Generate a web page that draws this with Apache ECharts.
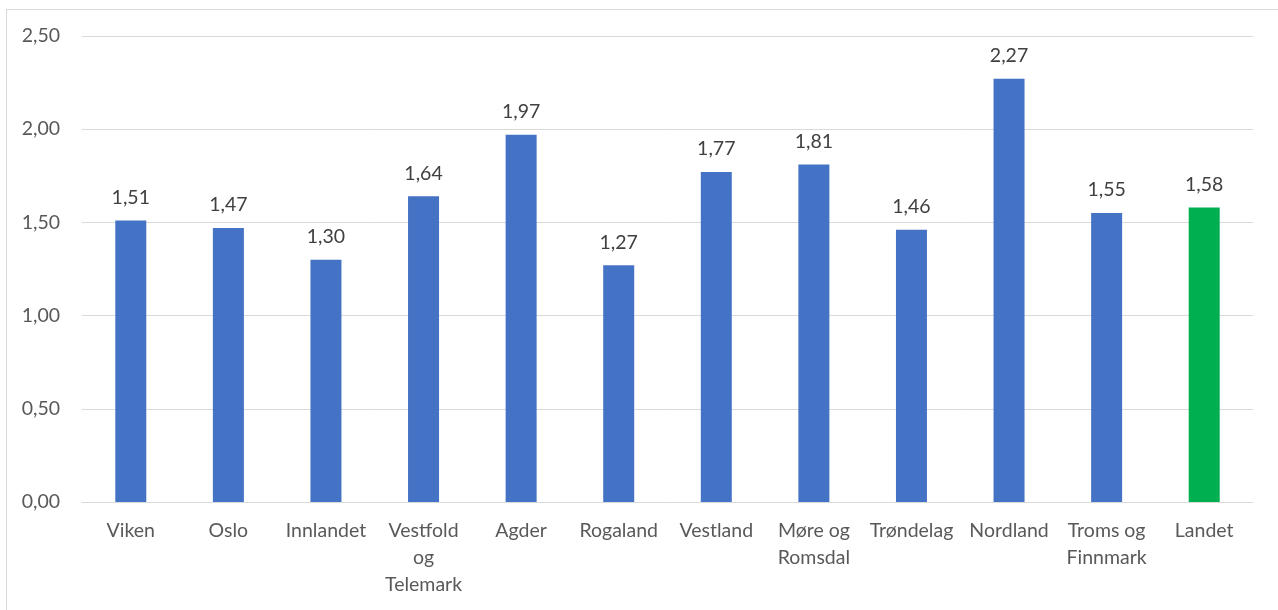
<!DOCTYPE html>
<html>
<head>
<meta charset="utf-8">
<script src="https://cdn.jsdelivr.net/npm/echarts@6/dist/echarts.min.js"></script>
<style>
  html, body { margin: 0; padding: 0; background: #fff; }
  #frame { position: absolute; left: 6px; top: 9px; width: 1280px; height: 610px; border: 1px solid #d9d9d9; box-sizing: border-box; }
  #chart { position: absolute; left: 0; top: 0; width: 1278px; height: 610px; }
</style>
</head>
<body>
<div id="frame"></div>
<div id="chart"></div>
<script>
// Fylker (og landet) med verdier
const categories = ['Viken', 'Oslo', 'Innlandet', 'Vestfold\nog\nTelemark', 'Agder', 'Rogaland',
  'Vestland', 'Møre og\nRomsdal', 'Trøndelag', 'Nordland', 'Troms og\nFinnmark', 'Landet'];
const values = [1.51, 1.47, 1.30, 1.64, 1.97, 1.27, 1.77, 1.81, 1.46, 2.27, 1.55, 1.58];
const highlight = 'Landet';

const BLUE = '#4472C4';
const GREEN = '#00B050';
const FONT = 'Lato, "Open Sans", sans-serif';

const fmt = v => v.toFixed(2).replace('.', ',');

const chart = echarts.init(document.getElementById('chart'), null, { renderer: 'canvas' });
chart.setOption({
  animation: false,
  grid: { left: 82, right: 25, top: 36, bottom: 108, containLabel: false },
  xAxis: {
    type: 'category',
    data: categories,
    axisLine: { show: true, lineStyle: { color: '#d9d9d9', width: 1 } },
    axisTick: { show: false },
    axisLabel: {
      interval: 0, color: '#595959', fontSize: 19.5, fontFamily: FONT,
      lineHeight: 27, margin: 15, verticalAlign: 'top'
    }
  },
  yAxis: {
    type: 'value',
    min: 0, max: 2.5, interval: 0.5,
    axisLine: { show: false },
    axisTick: { show: false },
    splitLine: { lineStyle: { color: '#d9d9d9', width: 1 } },
    axisLabel: { color: '#595959', fontSize: 19.5, fontFamily: FONT, margin: 22, formatter: fmt }
  },
  series: [{
    type: 'bar',
    barWidth: 31,
    data: values.map((v, i) => ({
      value: v,
      itemStyle: { color: categories[i] === highlight ? GREEN : BLUE }
    })),
    label: {
      show: true, position: 'top', distance: 13,
      color: '#404040', fontSize: 19.5, fontFamily: FONT,
      formatter: p => fmt(p.value)
    }
  }]
});
</script>
</body>
</html>
